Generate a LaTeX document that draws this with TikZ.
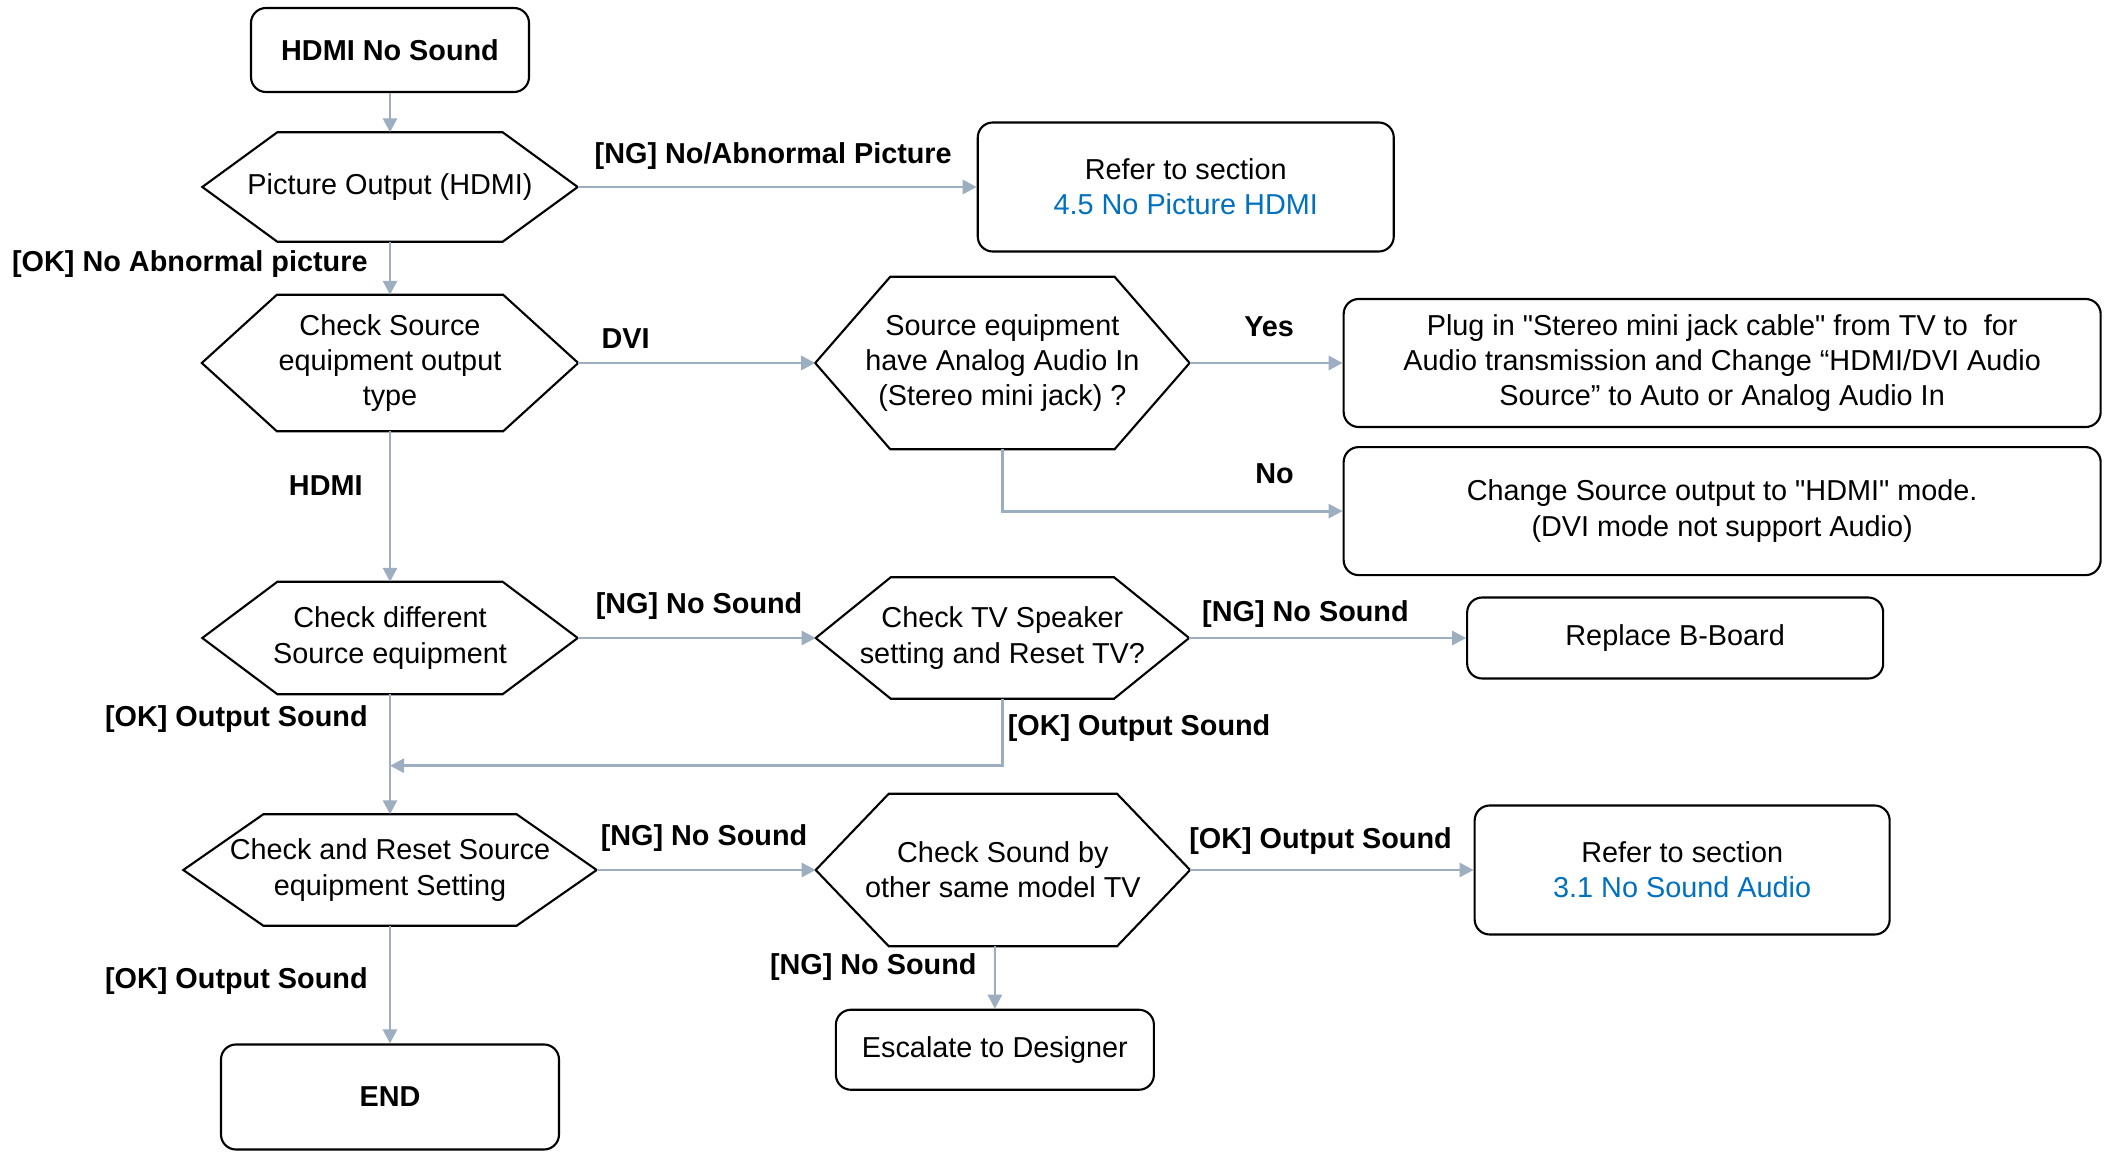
\documentclass[tikz,border=0pt]{standalone}
\usepackage{fontspec}
\newfontfamily\lsans{Liberation Sans}
\usetikzlibrary{arrows.meta, positioning}
\definecolor{Ink}{HTML}{000000}
\definecolor{Conn}{HTML}{9DAEC1}
\definecolor{Link}{HTML}{0070C0}

\begin{document}
\begin{tikzpicture}[
    every node/.style={font=\lsans\fontsize{8.2}{10}\selectfont, text=Ink},
    box/.style={rectangle, draw=Ink, line width=0.6pt, rounded corners=0.15cm, align=center, inner sep=2pt},
    decision/.style={rectangle, align=center, inner sep=0pt},
    frame/.style={draw=Ink, line width=0.6pt, line join=miter},
    lbl/.style={inner sep=0pt, font=\lsans\bfseries\fontsize{8.2}{10}\selectfont},
    arrow/.style={-{Triangle[length=1.4mm, width=1.4mm]}, line width=0.8pt, draw=Conn}
]
\useasboundingbox (0,0) rectangle (21.12,-11.52);

\node[box, font=\lsans\bfseries\fontsize{8.2}{10}\selectfont, minimum width=2.78cm, minimum height=0.84cm] (start) at (3.90,-0.50) {HDMI No Sound};
\node[decision, minimum width=3.74cm, minimum height=1.08cm] (picout) at (3.90,-1.87) {Picture Output (HDMI)};
\node[box, minimum width=4.16cm, minimum height=1.29cm, right=3.99cm of picout] (sect45) {Refer to section\\{\color{Link}4.5 No Picture HDMI}};

\node[decision, minimum width=3.75cm, minimum height=1.35cm] (srctype) at (3.90,-3.63) {Check Source\\equipment output\\type};
\node[decision, minimum width=3.73cm, minimum height=1.71cm, right=2.37cm of srctype] (analog) {Source equipment\\have Analog Audio In\\(Stereo mini jack) ?};
\node[box, minimum width=7.57cm, minimum height=1.28cm, right=1.53cm of analog] (plug) {Plug in "Stereo mini jack cable" from TV to \ for\\Audio transmission and Change “HDMI/DVI Audio\\Source” to Auto or Analog Audio In};
\node[box, minimum width=7.57cm, minimum height=1.28cm, below=0.18cm of plug] (change) {Change Source output to "HDMI" mode.\\(DVI mode not support Audio)};

\node[decision, minimum width=3.74cm, minimum height=1.11cm] (srcdiff) at (3.90,-6.38) {Check different\\Source equipment};
\node[decision, minimum width=3.72cm, minimum height=1.20cm, right=2.38cm of srcdiff] (speaker) {Check TV Speaker\\setting and Reset TV?};
\node[box, minimum width=4.16cm, minimum height=0.81cm, right=2.77cm of speaker] (bboard) {Replace B-Board};

\node[decision, minimum width=4.12cm, minimum height=1.10cm] (reset) at (3.90,-8.70) {Check and Reset Source\\equipment Setting};
\node[decision, minimum width=3.73cm, minimum height=1.51cm, right=2.19cm of reset] (othertv) {Check Sound by\\other same model TV};
\node[box, minimum width=4.15cm, minimum height=1.29cm, right=2.835cm of othertv] (sect31) {Refer to section\\{\color{Link}3.1 No Sound Audio}};
\node[box, minimum width=3.18cm, minimum height=0.80cm, below=0.625cm of othertv, xshift=-0.08cm] (escalate) {Escalate to Designer};

\node[box, font=\lsans\bfseries\fontsize{8.2}{10}\selectfont, minimum width=3.38cm, minimum height=1.05cm] (endbox) at (3.90,-10.97) {END};

\foreach \n/\c in {picout/0.75, srctype/0.75, analog/0.75, srcdiff/0.75, speaker/0.75, reset/0.8, othertv/0.73}
    \draw[frame] (\n.west) -- ([xshift=\c cm]\n.north west) -- ([xshift=-\c cm]\n.north east) -- (\n.east) -- ([xshift=-\c cm]\n.south east) -- ([xshift=\c cm]\n.south west) -- cycle;

\coordinate[below=0.715cm of srcdiff.south] (join);

\draw[arrow] (start) -- (picout);
\draw[arrow] (picout) -- node[lbl, pos=.49, yshift=.31cm] {[NG] No/Abnormal Picture} (sect45);
\draw[arrow] (picout) -- node[lbl, pos=.42, left=.21cm] {[OK] No Abnormal picture} (srctype);
\draw[arrow] (srctype) -- node[lbl, pos=.2, yshift=.24cm] {DVI} (analog);
\draw[arrow] (analog) -- node[lbl, pos=.52, yshift=.36cm] {Yes} (plug);
\draw[arrow] (analog.south) |- node[lbl, pos=.9, yshift=.37cm] {No} (change.west);
\draw[arrow] (srctype) -- node[lbl, pos=.36, left=.26cm] {HDMI} (srcdiff);
\draw[arrow] (srcdiff) -- node[lbl, pos=.51, yshift=.32cm] {[NG] No Sound} (speaker);
\draw[arrow] (speaker) -- node[lbl, pos=.42, yshift=.24cm] {[NG] No Sound} (bboard);
\draw[arrow] (speaker.south) |- node[lbl, pos=.22, right=.04cm] {[OK] Output Sound} (join);
\draw[arrow] (srcdiff) -- node[lbl, pos=.21, left=.21cm] {[OK] Output Sound} (reset);
\draw[arrow] (reset) -- node[lbl, pos=.49, yshift=.32cm] {[NG] No Sound} (othertv);
\draw[arrow] (othertv) -- node[lbl, pos=.46, yshift=.29cm] {[OK] Output Sound} (sect31);
\draw[arrow] (othertv.south -| escalate.north) -- node[lbl, pos=.34, left=.17cm] {[NG] No Sound} (escalate.north);
\draw[arrow] (reset) -- node[lbl, pos=.47, left=.21cm] {[OK] Output Sound} (endbox);
\end{tikzpicture}
\end{document}
